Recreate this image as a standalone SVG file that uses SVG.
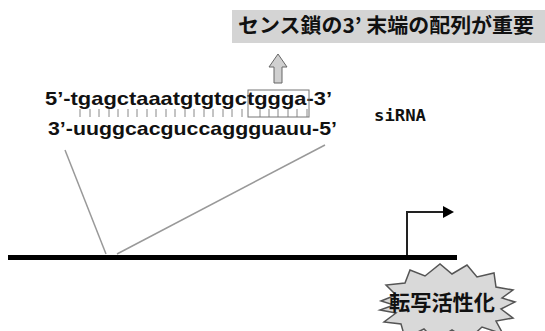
<svg xmlns="http://www.w3.org/2000/svg" width="545" height="331" viewBox="0 0 545 331">
<defs>
<style>
.seq{font-family:"Liberation Sans",Arial,sans-serif;font-weight:bold;font-size:19px;fill:#111}
.jp{font-family:"Noto Sans CJK JP",sans-serif;font-weight:bold;fill:#111}
.tick{stroke:#888;stroke-width:1}
.conn{stroke:#999;stroke-width:1.5;fill:none}
</style>
</defs>
<rect width="545" height="331" fill="#fff"/>
<g id="note">
<rect x="232" y="10" width="313" height="33" fill="#d4d4d4"/>
<text class="jp" x="238" y="33" font-size="20" textLength="296" lengthAdjust="spacingAndGlyphs">センス鎖の3’ 末端の配列が重要</text>
</g>
<g id="uparrow">
<polygon points="278,54 287,67 282,67 282,83 274,83 274,67 269,67" fill="#d0d0d0" stroke="#666" stroke-width="1"/>
</g>
<g id="sirna">
<text class="seq" x="45" y="105" textLength="287" lengthAdjust="spacingAndGlyphs">5’-tgagctaaatgtgtgctggga-3’</text>
<text class="seq" x="48" y="135" textLength="289" lengthAdjust="spacingAndGlyphs">3’-uuggcacguccaggguauu-5’</text>
<g class="tick">
<line x1="80" y1="109" x2="80" y2="117"/><line x1="90" y1="109" x2="90" y2="117"/><line x1="99" y1="109" x2="99" y2="117"/><line x1="109" y1="109" x2="109" y2="117"/><line x1="118" y1="109" x2="118" y2="117"/><line x1="128" y1="109" x2="128" y2="117"/><line x1="137" y1="109" x2="137" y2="117"/><line x1="147" y1="109" x2="147" y2="117"/><line x1="156" y1="109" x2="156" y2="117"/><line x1="166" y1="109" x2="166" y2="117"/><line x1="175" y1="109" x2="175" y2="117"/><line x1="185" y1="109" x2="185" y2="117"/><line x1="194" y1="109" x2="194" y2="117"/><line x1="204" y1="109" x2="204" y2="117"/><line x1="213" y1="109" x2="213" y2="117"/><line x1="223" y1="109" x2="223" y2="117"/><line x1="232" y1="109" x2="232" y2="117"/><line x1="242" y1="109" x2="242" y2="117"/><line x1="260" y1="109" x2="260" y2="117"/><line x1="269" y1="109" x2="269" y2="117"/><line x1="278" y1="109" x2="278" y2="117"/><line x1="288" y1="109" x2="288" y2="117"/><line x1="297" y1="109" x2="297" y2="117"/><line x1="307" y1="109" x2="307" y2="117"/>
</g>
<rect x="248" y="90" width="61" height="27" fill="none" stroke="#777" stroke-width="1"/>
<text x="374" y="121" font-family="'DejaVu Sans Mono','Liberation Mono',monospace" font-weight="bold" font-size="16" fill="#111" textLength="52" lengthAdjust="spacingAndGlyphs">siRNA</text>
</g>
<g id="gene">
<line x1="8" y1="257.5" x2="457" y2="257.5" stroke="#000" stroke-width="5"/>
</g>
<g id="promoter">
<polyline points="407,255 407,212 444,212" fill="none" stroke="#222" stroke-width="2"/>
<polygon points="443,206 454,212 443,218" fill="#000"/>
</g>
<g id="connectors">
<line class="conn" x1="65" y1="150" x2="106" y2="254"/>
<line class="conn" x1="325" y1="145" x2="117" y2="254"/>
</g>
<g id="activation">
<polygon points="381,301 396,295 386,285 405,283 410,270 425,276 440,264 452,274 467,265 477,277 494,273 496,287 513,290 502,298 515,302 501,309 513,318 496,321 503,334 482,327 468,340 452,330 435,340 424,329 405,338 401,324 384,322 396,313 380,310 394,305" fill="#d9d9d9" stroke="#555" stroke-width="1.5" stroke-linejoin="miter"/>
<text class="jp" x="389" y="310" font-size="21" textLength="106" lengthAdjust="spacingAndGlyphs">転写活性化</text>
</g>
</svg>
